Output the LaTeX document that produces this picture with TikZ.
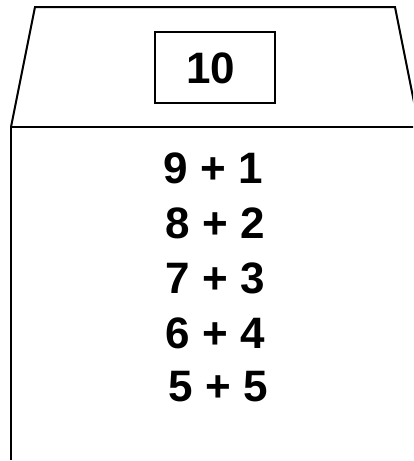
\documentclass[tikz,border=0pt]{standalone}
\usepackage{fontspec}
\setmainfont{Liberation Sans}
\begin{document}
\begin{tikzpicture}[x=1pt,y=-1pt,
  edge/.style={line width=2pt,line join=miter},
  sumtext/.style={font=\fontsize{44}{50}\selectfont\bfseries,anchor=base,inner sep=0pt},
  boxnode/.style={draw,line width=1.6pt,minimum width=120pt,minimum height=71pt,inner sep=0pt}]
\useasboundingbox (0,0) rectangle (413,461);
\clip (0,0) rectangle (413,461);
\fill[white] (0,0) rectangle (413,461);
% roof
\draw[edge] (11,127) -- (35,7) -- (395,7) -- (419,127);
\draw[edge] (11,127) -- (420,127);
% wall
\draw[edge] (11,127) -- (11,460);
% box
\node[boxnode] (box) at (215,67.5) {};
\node[sumtext] (ten) at (211,83) {10};
\node[sumtext] (r1) at (213,183) {9 + 1};
\node[sumtext] (r2) at (215,238) {8 + 2};
\node[sumtext] (r3) at (215,293) {7 + 3};
\node[sumtext] (r4) at (215,348) {6 + 4};
\node[sumtext] (r5) at (218,401) {5 + 5};
\end{tikzpicture}
\end{document}
